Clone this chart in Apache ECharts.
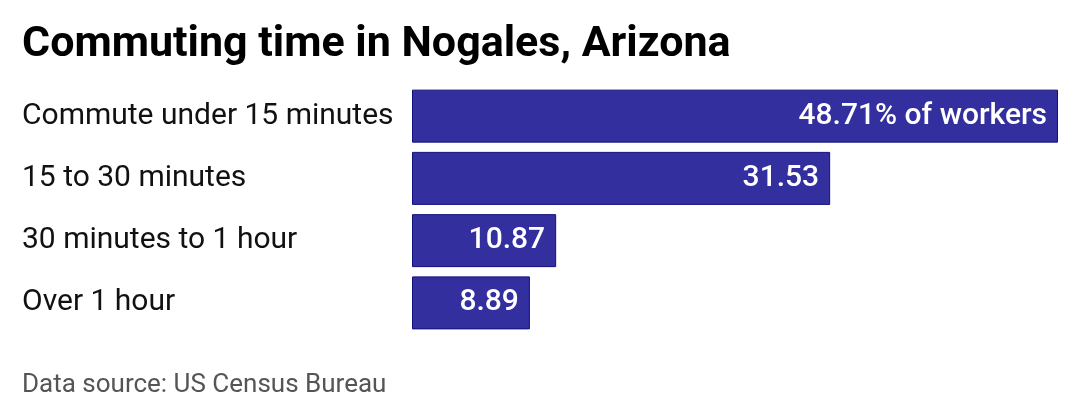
<!DOCTYPE html>
<html>
<head>
<meta charset="utf-8">
<script src="https://cdn.jsdelivr.net/npm/echarts@6/dist/echarts.min.js"></script>
<style>
  html, body { margin: 0; padding: 0; background: #fff; }
  #chart { width: 1080px; height: 420px; }
</style>
</head>
<body>
<div id="chart"></div>
<script>
var categories = ['Commute under 15 minutes', '15 to 30 minutes', '30 minutes to 1 hour', 'Over 1 hour'];
var values = [48.71, 31.53, 10.87, 8.89];

var chart = echarts.init(document.getElementById('chart'));
var option = {
  backgroundColor: '#ffffff',
  textStyle: { fontFamily: 'Roboto' },
  title: [{
    text: 'Commuting time in Nogales, Arizona',
    left: 22,
    top: 24,
    padding: 0,
    textStyle: { fontFamily: 'Roboto', fontSize: 43, fontWeight: 'bold', color: '#000' }
  }, {
    text: 'Data source: US Census Bureau',
    left: 22,
    top: 372,
    padding: 0,
    textStyle: { fontFamily: 'Roboto', fontSize: 26, fontWeight: 'normal', color: '#555' }
  }],
  grid: { left: 412, right: 22, top: 85, height: 249 },
  xAxis: {
    type: 'value',
    min: 0,
    max: 48.71,
    show: false
  },
  yAxis: {
    type: 'category',
    data: categories,
    inverse: true,
    axisLine: { show: false },
    axisTick: { show: false },
    axisLabel: {
      margin: 390,
      align: 'left',
      padding: [6, 0, 0, 0],
      fontFamily: 'Roboto',
      fontSize: 30,
      color: '#111'
    }
  },
  series: [{
    type: 'bar',
    data: values,
    barWidth: 53,
    itemStyle: { color: '#332f9f', borderColor: '#10107a', borderWidth: 1 },
    label: {
      show: true,
      position: 'insideRight',
      distance: 11,
      padding: [6, 0, 0, 0],
      fontFamily: 'Roboto',
      fontSize: 30,
      fontWeight: 500,
      color: '#fff',
      formatter: function (p) {
        return p.dataIndex === 0 ? p.value.toFixed(2) + '% of workers' : p.value.toFixed(2);
      }
    }
  }]
};
chart.setOption(option);
</script>
</body>
</html>
